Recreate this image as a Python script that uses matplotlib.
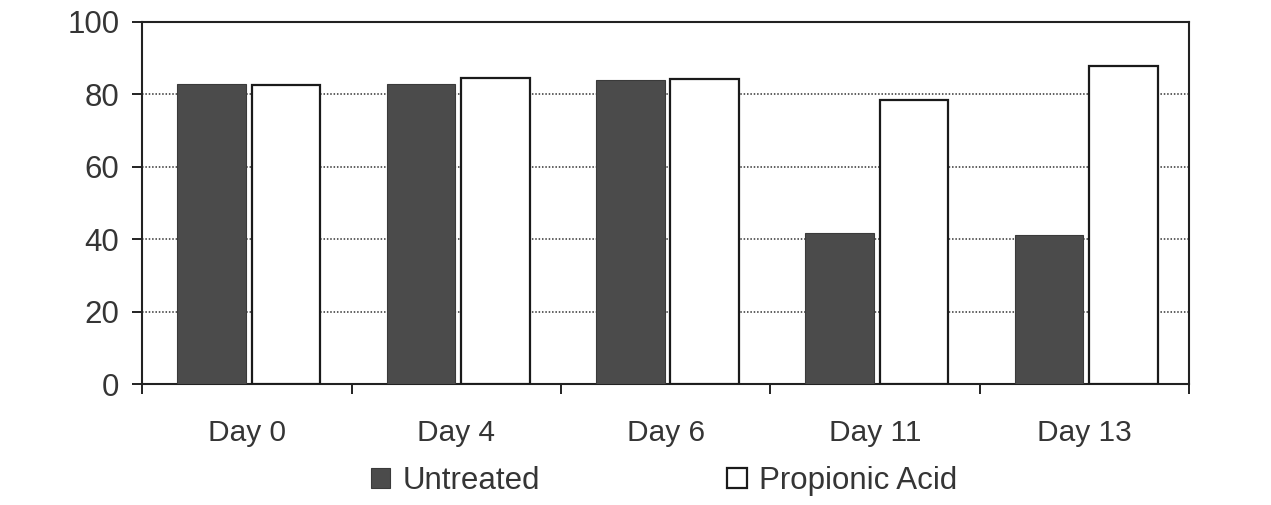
import matplotlib
matplotlib.use("Agg")
import matplotlib.pyplot as plt
import numpy as np

categories = ["Day 0", "Day 4", "Day 6", "Day 11", "Day 13"]
untreated = [82.8, 82.7, 84.0, 41.6, 41.2]
propionic = [82.6, 84.4, 84.2, 78.4, 87.9]
series_names = ["Untreated", "Propionic Acid"]
yticks = [0, 20, 40, 60, 80, 100]

plt.rcParams['font.family'] = ['Liberation Sans', 'DejaVu Sans']
txt = '#353535'

fig = plt.figure(figsize=(12.71, 5.05), dpi=100)
ax = fig.add_axes([142.3/1271, 1-384.3/505, (1189-142.3)/1271, (384.3-21.7)/505])

x = np.arange(len(categories)) + 0.5
w = 0.328
b1 = ax.bar(x - 0.168, untreated, w, color='#4b4b4b', edgecolor='#3a3a3a', linewidth=0.8,
            label=series_names[0], zorder=3)
b2 = ax.bar(x + 0.186, propionic, w, color='white', edgecolor='#1a1a1a', linewidth=1.6,
            label=series_names[1], zorder=3)

ax.set_xlim(0, len(categories))
ax.set_ylim(0, 100)
ax.set_yticks(yticks)
ax.set_yticklabels([str(v) for v in yticks], fontsize=22.5, color=txt)
ax.set_xticks(x)
ax.set_xticklabels(categories, fontsize=21.5, color=txt)
ax.set_xticks(np.arange(len(categories) + 1), minor=True)
ax.tick_params(axis='x', which='major', length=0, pad=25)
ax.tick_params(axis='x', which='minor', length=7.5, width=1.4, direction='out', color='#222222')
ax.tick_params(axis='y', which='major', length=7.5, width=1.4, direction='out', color='#222222', pad=9)

for v in yticks[1:-1]:
    ax.axhline(v, color='#333333', linestyle=(0, (1, 1.2)), linewidth=1.1, zorder=1)

for s in ax.spines.values():
    s.set_color('#222222')
    s.set_linewidth(1.5)

leg = fig.legend(handles=[b1, b2], labels=series_names, loc='center', ncol=2,
                 bbox_to_anchor=(664/1271, 1-481/505), frameon=False, fontsize=22.5,
                 handlelength=0.62, handleheight=0.62, handletextpad=0.4, columnspacing=6.0,
                 borderpad=0)
for t in leg.get_texts():
    t.set_color(txt)

fig.savefig("out.png", dpi=100, facecolor='white')
